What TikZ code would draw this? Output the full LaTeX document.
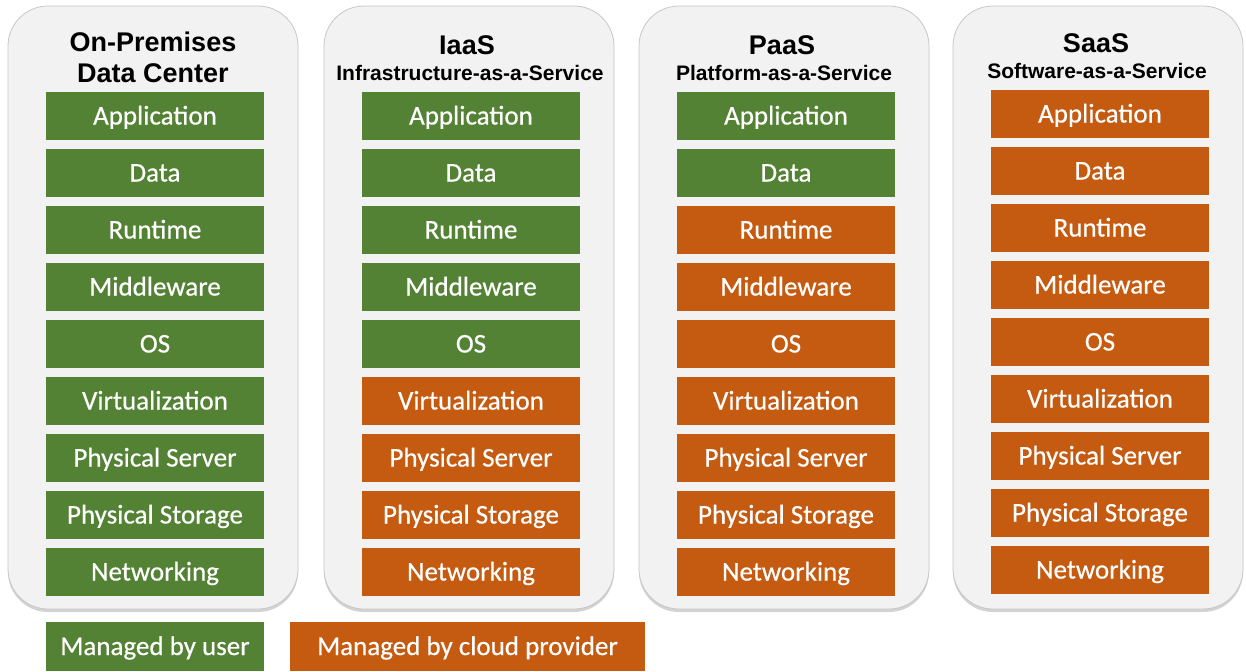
\documentclass[tikz,border=0pt]{standalone}
\usepackage{fontspec}
\setmainfont{Carlito}
\newfontfamily\layerfont{Carlito}[FakeBold=0.5]
\newfontfamily\headfont{Liberation Sans}
\usetikzlibrary{positioning, shadows}
\definecolor{usergreen}{RGB}{84,130,53}
\definecolor{cloudorange}{RGB}{197,90,17}
\definecolor{panelgray}{RGB}{242,242,242}

\tikzset{
  panel/.style={draw=black!22, fill=panelgray, rounded corners=20pt,
    drop shadow={shadow xshift=0pt, shadow yshift=-1.5pt, opacity=0.35}},
  layer/.style={minimum width=109pt, minimum height=24pt, inner sep=0pt,
    text height=9.5pt, text depth=1pt,
    text=white, font=\layerfont\fontsize{13.5}{15}\selectfont},
  title/.style={font=\headfont\bfseries\fontsize{13.5}{15.5}\selectfont, align=center, inner sep=0pt},
  subtitle/.style={font=\headfont\bfseries\fontsize{10.5}{12}\selectfont, inner sep=0pt}
}

\begin{document}
\begin{tikzpicture}[x=0.5pt, y=-0.5pt]
  \useasboundingbox (0,0) rectangle (1246,671);

  % columns: name / box centre / first row top / rows managed by user
  \foreach \col/\cx/\ny/\nuser in {op/155/92/9, iaas/471/92/5, paas/786/92/2, saas/1100/90/0} {
    \draw[panel] (\cx-147,6) rectangle (\cx+143,609);
    \foreach \lab [count=\r] in {Application, Data, Runtime, Middleware, OS,
        Virtualization, Physical Server, Physical Storage, Networking} {
      \ifnum\r>\nuser \def\lc{cloudorange}\else\def\lc{usergreen}\fi
      \node[layer, fill=\lc] (\col-\r) at (\cx,\ny+24+57*\r-57) {\lab};
    }
  }

  % headings
  \node[title] (op-title) at (153,57.5) {On-Premises\\Data Center};
  \node[title] (iaas-title) at (467,45) {IaaS};
  \node[subtitle] (iaas-sub) at (470,73) {Infrastructure-as-a-Service};
  \node[title] (paas-title) at (782,45) {PaaS};
  \node[subtitle] (paas-sub) at (784,73) {Platform-as-a-Service};
  \node[title] (saas-title) at (1096,43) {SaaS};
  \node[subtitle] (saas-sub) at (1097,71) {Software-as-a-Service};

  % legend
  \node[layer, fill=usergreen, minimum height=24.5pt] (user) at (155,646.5) {Managed by user};
  \node[layer, fill=cloudorange, minimum width=177.5pt, minimum height=24.5pt] (cloud) at (467.5,646.5) {Managed by cloud provider};
\end{tikzpicture}
\end{document}
